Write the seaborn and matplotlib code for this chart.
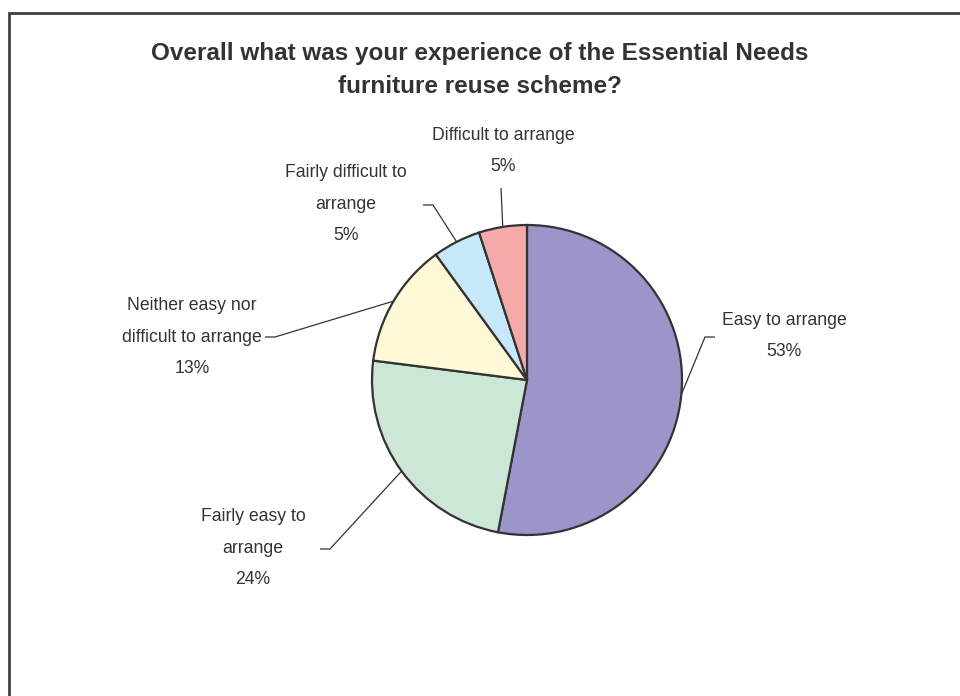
import matplotlib
matplotlib.use("Agg")
import matplotlib.pyplot as plt
import seaborn as sns
import numpy as np

sns.set_theme(style="white")
plt.rcParams["font.family"] = ["Liberation Sans", "DejaVu Sans"]

# Survey responses (share of respondents, %)
categories = [
    "Easy to arrange",
    "Fairly easy to\narrange",
    "Neither easy nor\ndifficult to arrange",
    "Fairly difficult to\narrange",
    "Difficult to arrange",
]
shares = [53, 24, 13, 5, 5]
slice_colors = ["#9C95C9", "#CDE7D7", "#FFF9D8", "#C7E8F8", "#F5AAAA"]

title = "Overall what was your experience of the Essential Needs\nfurniture reuse scheme?"

W, H, DPI = 960, 696, 100
fig = plt.figure(figsize=(W / DPI, H / DPI), dpi=DPI)
fig.patch.set_facecolor("white")

# Axes spans the whole figure; one data unit equals the pie radius in pixels
cx, cy, R = 527, 380, 155
ax = fig.add_axes([0, 0, 1, 1])

palette = sns.color_palette(slice_colors)
wedges, _ = ax.pie(
    shares,
    colors=palette,
    startangle=90,
    counterclock=False,
    radius=1.0,
    center=(0, 0),
    wedgeprops=dict(edgecolor="#333333", linewidth=1.6),
)
ax.set_xlim(-cx / R, (W - cx) / R)
ax.set_ylim((cy - H) / R, cy / R)
ax.set_aspect("equal")
ax.axis("off")

def px(x, y):
    return ((x - cx) / R, (cy - y) / R)

# Label centres and leader-line start/elbow points (in pixels)
label_pos = [(784, 336), (253, 548), (192, 337), (346, 204), (503, 151)]
leader_start = [(715, 337), (320, 549), (265, 337), (423, 205), (501, 188)]
leader_elbow = [(705, 337), (330, 549), (275, 337), (433, 205), (501, 188)]

text_color = "#333333"
for w, cat, val, lp, ls, le in zip(wedges, categories, shares, label_pos, leader_start, leader_elbow):
    mid = np.deg2rad((w.theta1 + w.theta2) / 2)
    edge = (np.cos(mid), np.sin(mid))
    tx, ty = px(*lp)
    ax.text(tx, ty, f"{cat}\n{val}%", ha="center", va="center",
            fontsize=12.7, color=text_color, linespacing=2.12)
    sx, sy = px(*ls)
    ex, ey = px(*le)
    ax.plot([sx, ex, edge[0]], [sy, ey, edge[1]], color="#333333", lw=0.9,
            solid_capstyle="butt")

fig.text(480 / W, 1 - 70 / H, title, ha="center", va="center",
         fontsize=17.5, fontweight="bold", color="#333333", linespacing=1.55)

# Chart-area frame (runs off the right and bottom edges)
frame = plt.Rectangle((9 / W, -0.05), 1.2, 1 - 13 / H + 0.05, transform=fig.transFigure,
                      fill=False, edgecolor="#404040", linewidth=2.0)
fig.add_artist(frame)

fig.savefig("out.png", dpi=DPI, facecolor="white")
